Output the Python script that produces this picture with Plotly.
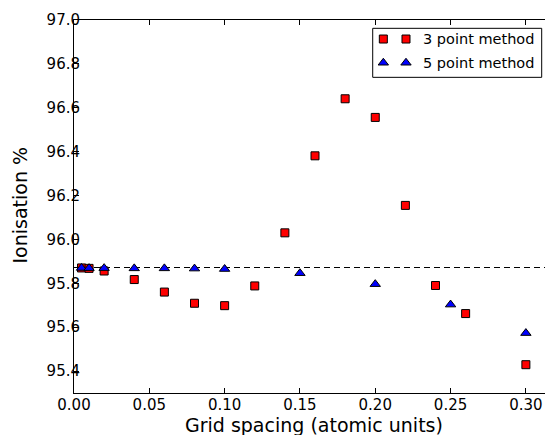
import plotly.graph_objects as go

# ---- data ----
x3 = [0.005, 0.01, 0.02, 0.04, 0.06, 0.08, 0.10, 0.12, 0.14, 0.16, 0.18, 0.20, 0.22, 0.24, 0.26, 0.30]
y3 = [95.870, 95.868, 95.856, 95.817, 95.760, 95.709, 95.698, 95.788, 96.030, 96.381, 96.641, 96.556, 96.155, 95.790, 95.662, 95.429]
x5 = [0.005, 0.01, 0.02, 0.04, 0.06, 0.08, 0.10, 0.15, 0.20, 0.25, 0.30]
y5 = [95.870, 95.869, 95.869, 95.868, 95.868, 95.867, 95.865, 95.846, 95.796, 95.703, 95.573]
reference_value = 95.872
label3 = "3 point method"
label5 = "5 point method"
x_ticks = [0.00, 0.05, 0.10, 0.15, 0.20, 0.25, 0.30]
y_ticks = [95.4, 95.6, 95.8, 96.0, 96.2, 96.4, 96.6, 96.8, 97.0]
x_title = "Grid spacing (atomic units)"
y_title = "Ionisation %"

FONT = "DejaVu Sans"
sq_marker = dict(symbol="square", size=8, color="#ff0000", line=dict(color="black", width=1))
tri_marker = dict(symbol="triangle-up", size=9, color="#0000ff", line=dict(color="black", width=1))

fig = go.Figure()
fig.add_trace(go.Scatter(x=x3, y=y3, mode="markers", marker=sq_marker, name=label3, showlegend=False))
fig.add_trace(go.Scatter(x=x5, y=y5, mode="markers", marker=tri_marker, name=label5, showlegend=False))

# custom legend (matplotlib style, two markers per entry) on a hidden overlay axis
leg_x = [0.6458, 0.6931]
leg_rows = [0.9490, 0.8854]
fig.add_trace(go.Scatter(x=leg_x, y=[leg_rows[0]] * 2, mode="markers", marker=sq_marker,
                         xaxis="x2", yaxis="y2", showlegend=False, hoverinfo="skip"))
fig.add_trace(go.Scatter(x=leg_x, y=[leg_rows[1]] * 2, mode="markers", marker=tri_marker,
                         xaxis="x2", yaxis="y2", showlegend=False, hoverinfo="skip"))

fig.add_shape(type="rect", xref="paper", yref="paper", x0=0.6236, x1=0.9764, y0=0.8463, y1=0.9777,
              line=dict(color="black", width=1), fillcolor="white", layer="below")
for lbl, yy in zip([label3, label5], leg_rows):
    fig.add_annotation(x=0.7265, y=yy, xref="paper", yref="paper", text=lbl, showarrow=False,
                       xanchor="left", yanchor="middle", borderpad=0,
                       font=dict(family=FONT, size=14.5, color="black"))

# axis titles as annotations for exact placement
fig.add_annotation(x=0.5, y=-0.054, xref="paper", yref="paper", text=x_title, showarrow=False,
                   xanchor="center", yanchor="top", borderpad=0,
                   font=dict(family=FONT, size=19, color="black"))
fig.add_annotation(x=-0.113, y=0.505, xref="paper", yref="paper", text=y_title, showarrow=False,
                   textangle=-90, xanchor="center", yanchor="middle", borderpad=0,
                   font=dict(family=FONT, size=19, color="black"))

fig.add_shape(type="line", xref="x domain", yref="y", x0=0, x1=1, y0=reference_value, y1=reference_value,
              line=dict(color="black", width=1, dash="6px,4px"), layer="below")

axis_common = dict(showline=True, linecolor="black", linewidth=1, mirror="allticks", ticks="inside",
                   ticklen=5, tickcolor="black", tickwidth=1, showgrid=False, zeroline=False,
                   automargin=False, tickfont=dict(family=FONT, size=15, color="black"))

# page body has an 8px margin, so the figure is shrunk and the margins shifted
fig.update_layout(
    width=545, height=427,
    margin=dict(l=66, r=0, t=12, b=42, autoexpand=False),
    paper_bgcolor="white", plot_bgcolor="white",
    font=dict(family=FONT, color="black"),
    xaxis=dict(range=[0, 0.318], tickvals=x_ticks, ticktext=[f"{v:.2f}" for v in x_ticks],
               ticklabelstandoff=-2, **axis_common),
    yaxis=dict(range=[95.3, 97.0], tickvals=y_ticks, ticktext=[f"{v:.1f}" for v in y_ticks],
               ticklabelstandoff=-10, **axis_common),
    xaxis2=dict(range=[0, 1], overlaying="x", visible=False),
    yaxis2=dict(range=[0, 1], overlaying="y", visible=False),
)

fig.write_html("out.html")
